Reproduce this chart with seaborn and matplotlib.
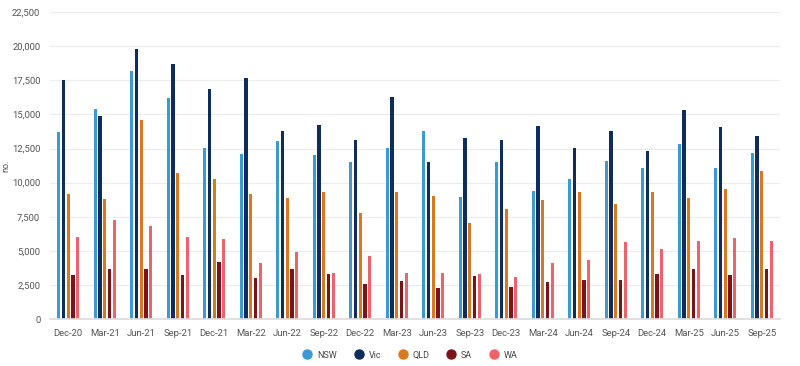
import pandas as pd
import seaborn as sns
import matplotlib.pyplot as plt
from matplotlib.ticker import FuncFormatter
from matplotlib.lines import Line2D

quarters = ['Dec-20', 'Mar-21', 'Jun-21', 'Sep-21', 'Dec-21', 'Mar-22', 'Jun-22',
            'Sep-22', 'Dec-22', 'Mar-23', 'Jun-23', 'Sep-23', 'Dec-23', 'Mar-24',
            'Jun-24', 'Sep-24', 'Dec-24', 'Mar-25', 'Jun-25', 'Sep-25']

nsw = [13700, 15400, 18200, 16200, 12550, 12100, 13050, 12000, 11550, 12550,
       13750, 8950, 11550, 9400, 10250, 11600, 11100, 12800, 11100, 12150]
vic = [17500, 14850, 19800, 18700, 16900, 17700, 13750, 14200, 13150, 16250,
       11500, 13250, 13100, 14150, 12550, 13750, 12300, 15300, 14100, 13400]
qld = [9200, 8800, 14600, 10700, 10300, 9150, 8900, 9300, 7800, 9300,
       9000, 7050, 8050, 8700, 9300, 8450, 9300, 8900, 9550, 10850]
sa = [3200, 3700, 3700, 3250, 4200, 3050, 3700, 3300, 2600, 2800,
      2250, 3150, 2350, 2750, 2900, 2900, 3300, 3700, 3200, 3700]
wa = [6000, 7300, 6800, 6000, 5900, 4150, 4900, 3350, 4650, 3350,
      3350, 3300, 3100, 4100, 4300, 5650, 5150, 5700, 5950, 5700]

states = ['NSW', 'Vic', 'QLD', 'SA', 'WA']
colors = ['#3a9ad6', '#0f2d5c', '#d9781e', '#7b1418', '#f0626a']

df = pd.DataFrame({'quarter': quarters, 'NSW': nsw, 'Vic': vic, 'QLD': qld,
                   'SA': sa, 'WA': wa})
long_df = df.melt(id_vars='quarter', var_name='state', value_name='value')

sns.set_theme(style='white')
plt.rcParams['font.family'] = ['Roboto', 'DejaVu Sans']

fig = plt.figure(figsize=(8, 3.66), dpi=100)
ax = fig.add_axes([0.0625, 0.128, 0.9125, 0.839])

sns.barplot(data=long_df, x='quarter', y='value', hue='state',
            hue_order=states, palette=colors, width=0.64, gap=0.32,
            saturation=1, legend=False, ax=ax)
for bar in ax.patches:
    bar.set_edgecolor('none')
    bar.set_antialiased(False)

ax.set_ylim(0, 22500)
ax.set_xlim(-0.5, len(quarters) - 0.5)
ax.set_yticks(range(0, 22501, 2500))
ax.yaxis.set_major_formatter(FuncFormatter(lambda x, p: format(int(x), ',')))
ax.grid(axis='y', color='#ececec', linewidth=0.8)
ax.set_axisbelow(True)
for side in ['top', 'right', 'left']:
    ax.spines[side].set_visible(False)
ax.spines['bottom'].set_color('#dddddd')
ax.tick_params(axis='both', labelsize=6.8, labelcolor='#555555', length=0, pad=7)
ax.set_xlabel('')
ax.set_ylabel('no.', fontsize=6.5, color='#555555')
ax.yaxis.set_label_coords(-0.054, 0.5)

handles = [Line2D([0], [0], marker='o', linestyle='', markersize=6.5,
                  markerfacecolor=c, markeredgecolor=c) for c in colors]
fig.legend(handles, states, loc='center', bbox_to_anchor=(0.51, 0.03),
           ncol=5, frameon=False, fontsize=6.5, handletextpad=0.1,
           columnspacing=1.4, labelcolor='#444444')

plt.savefig('out.png', dpi=100)
